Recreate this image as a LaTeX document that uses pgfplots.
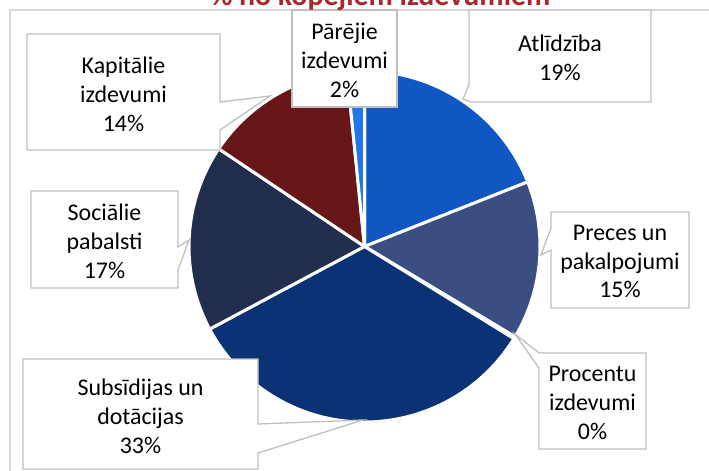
\documentclass[border=0pt]{standalone}
\usepackage{pgfplots}
\usepackage{pgfplotstable}
\pgfplotsset{compat=1.18}
\usepackage{fontspec}
\setmainfont{Carlito}

\definecolor{cA}{HTML}{1157C4}
\definecolor{cB}{HTML}{3A4E82}
\definecolor{cC}{HTML}{5B7BC0}
\definecolor{cD}{HTML}{0A3275}
\definecolor{cE}{HTML}{222E4E}
\definecolor{cF}{HTML}{681719}
\definecolor{cG}{HTML}{2176EA}
\definecolor{titlered}{HTML}{A8282D}
\definecolor{boxgray}{HTML}{BFBFBF}
\definecolor{framegray}{HTML}{D9D9D9}

\pgfplotstableread{
name v col
Atlidziba 19.0 cA
Preces 14.6 cB
Procentu 0.2 cC
Subsidijas 33.4 cD
Sociālie 17.2 cE
Kapitalie 14.0 cF
Parejie 1.6 cG
}\piedata

\begin{document}
\begin{tikzpicture}
\begin{axis}[
  name=ax,
  x=1bp, y=1bp,
  xmin=0, xmax=709, ymin=0, ymax=471,
  y dir=reverse,
  hide axis,
  clip=false,
]
% chart frame (partially visible)
\draw[framegray, line width=1.5bp] (axis cs:10,480) -- (axis cs:10,10) -- (axis cs:720,10);
% pie
\def\cum{0}
\pgfplotsforeachungrouped \i in {0,...,6}{%
  \pgfplotstablegetelem{\i}{v}\of\piedata \let\val\pgfplotsretval
  \pgfplotstablegetelem{\i}{col}\of\piedata \let\cc\pgfplotsretval
  \pgfmathsetmacro\sa{90-3.6*\cum}%
  \pgfmathsetmacro\ea{90-3.6*(\cum+\val)}%
  \pgfmathsetmacro\cum{\cum+\val}%
  \edef\temp{\noexpand\fill[\cc, draw=white, line width=3bp, line join=round] (axis cs:364.5,246.5) -- ++(\sa:175.5bp) arc[start angle=\sa, end angle=\ea, radius=175.5bp] -- cycle;}%
  \temp
}
% callout boxes
\tikzset{callout/.style={draw=boxgray, fill=white, line width=1.3bp, line join=miter}}
\tikzset{lbl/.style={align=center, font=\fontsize{24}{29}\selectfont, inner sep=0pt}}
% Atlidziba
\draw[callout] (axis cs:469,10) -- (axis cs:651,10) -- (axis cs:651,102) -- (axis cs:471,102) -- (axis cs:463,99) -- (axis cs:469,85) -- cycle;
\node[lbl] at (axis cs:560,58) {Atlīdzība\\19\%};
% Preces
\draw[callout] (axis cs:551,212) -- (axis cs:689,212) -- (axis cs:689,308) -- (axis cs:551,308) -- (axis cs:551,250) -- (axis cs:541,255) -- (axis cs:551,228) -- cycle;
\node[lbl] at (axis cs:620,261.5) {Preces un\\pakalpojumi\\15\%};
% Procentu
\draw[callout] (axis cs:539,353) -- (axis cs:646,353) -- (axis cs:646,449) -- (axis cs:539,449) -- (axis cs:539,368) -- (axis cs:515,334) -- cycle;
\node[lbl] at (axis cs:592.5,403) {Procentu\\izdevumi\\0\%};
% Subsidijas
\draw[callout] (axis cs:23,359) -- (axis cs:258,359) -- (axis cs:258,424) -- (axis cs:363,420) -- (axis cs:258,453) -- (axis cs:258,469) -- (axis cs:23,469) -- cycle;
\node[lbl] at (axis cs:140.5,416) {Subsīdijas un\\dotācijas\\33\%};
% Sociālie
\draw[callout] (axis cs:31,191) -- (axis cs:178,191) -- (axis cs:178,247) -- (axis cs:189,240) -- (axis cs:178,270) -- (axis cs:178,288) -- (axis cs:31,288) -- cycle;
\node[lbl] at (axis cs:104.5,241) {Sociālie\\pabalsti\\17\%};
% Kapitalie
\draw[callout] (axis cs:27,34) -- (axis cs:220,34) -- (axis cs:220,102) -- (axis cs:270,96) -- (axis cs:220,130) -- (axis cs:220,150) -- (axis cs:27,150) -- cycle;
\node[lbl] at (axis cs:123.5,94.5) {Kapitālie\\izdevumi\\14\%};
% Parejie
\draw[callout] (axis cs:292,10) -- (axis cs:397,10) -- (axis cs:397,107) -- (axis cs:292,107) -- cycle;
\node[lbl] at (axis cs:344.5,60.5) {Pārējie\\izdevumi\\2\%};
% title (mostly cut off at top, as in the reference)
\node[anchor=base, text=titlered, font=\bfseries\fontsize{30}{36}\selectfont, inner sep=0pt] at (axis cs:380.5,6) {\% no kopējiem izdevumiem};
\end{axis}
\pgfresetboundingbox
\path[use as bounding box] (ax.south west) rectangle (ax.north east);
\end{tikzpicture}
\end{document}
